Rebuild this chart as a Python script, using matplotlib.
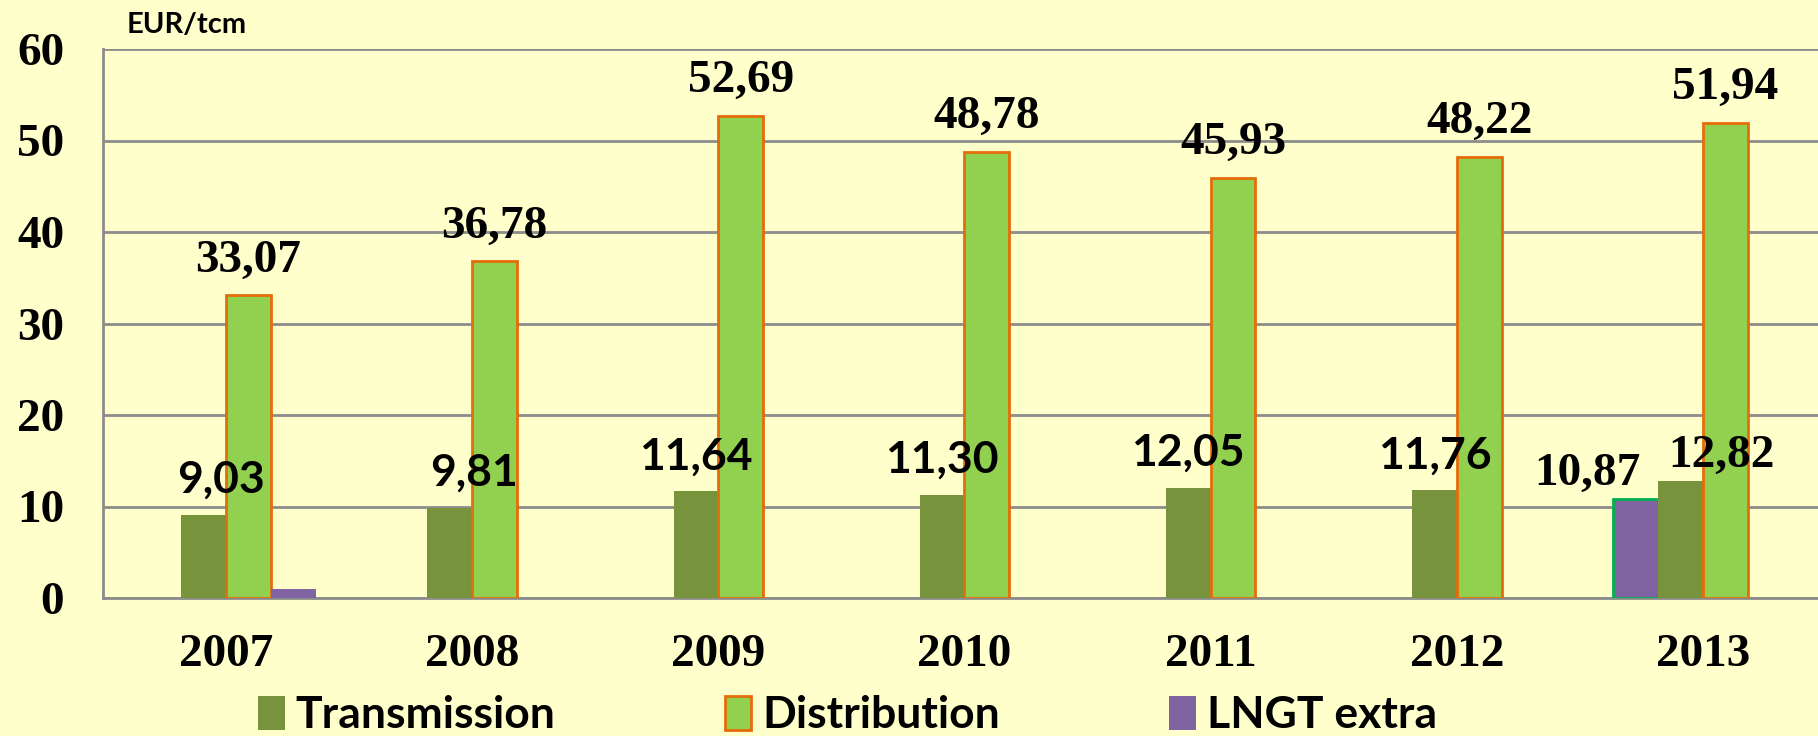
import numpy as np
import matplotlib
matplotlib.use("Agg")
import matplotlib.pyplot as plt
from matplotlib.patches import Patch

years = ["2007", "2008", "2009", "2010", "2011", "2012", "2013"]
transmission = [9.03, 9.81, 11.64, 11.30, 12.05, 11.76, 12.82]
distribution = [33.07, 36.78, 52.69, 48.78, 45.93, 48.22, 51.94]
lngt_extra = [1.0, np.nan, np.nan, np.nan, np.nan, np.nan, np.nan]
lngt_2013 = [np.nan, np.nan, np.nan, np.nan, np.nan, np.nan, 10.87]

BG = "#FFFFCC"
C_TRANS = "#77933C"
C_DIST = "#92D050"
C_DIST_EDGE = "#E46C0A"
C_LNGT = "#8064A2"
C_LNGT_EDGE = "#00B050"
GRID = "#8C8C8C"

SERIF = "Liberation Serif"
SANS = "Lato"


def fmt(v):
    return f"{v:.2f}".replace(".", ",")


fig = plt.figure(figsize=(18.18, 7.36), dpi=100, facecolor=BG)
ax = fig.add_axes([103 / 1818, 138 / 736, 1723 / 1818, 549 / 736])
ax.set_facecolor(BG)

x = np.arange(len(years))
w = 0.182

ax.bar(x - 1.5 * w, lngt_2013, w, color=C_LNGT, edgecolor=C_LNGT_EDGE, linewidth=2, zorder=3)
ax.bar(x - 0.5 * w, transmission, w, color=C_TRANS, zorder=3)
ax.bar(x + 0.5 * w, distribution, w, color=C_DIST, edgecolor=C_DIST_EDGE, linewidth=2, zorder=3)
ax.bar(x + 1.5 * w, lngt_extra, w, color=C_LNGT, zorder=3)

# value labels
for i, v in enumerate(distribution):
    ax.annotate(fmt(v), (x[i] + 0.5 * w, v), xytext=(0, 17), textcoords="offset points",
                ha="center", va="baseline", fontsize=34, fontweight="bold", family=SERIF)

trans_dx = [0.07, 0.10, 0, 0, 0, 0, 0.167]
for i, v in enumerate(transmission):
    if i == len(years) - 1:
        ax.annotate(fmt(v), (x[i] - 0.5 * w + trans_dx[i], v), xytext=(0, 10), textcoords="offset points",
                    ha="center", va="baseline", fontsize=34, fontweight="bold", family=SERIF)
    else:
        ax.annotate(fmt(v), (x[i] - 0.5 * w + trans_dx[i], v), xytext=(0, 16), textcoords="offset points",
                    ha="center", va="baseline", fontsize=32, fontweight="bold", family=SANS)

ax.annotate(fmt(lngt_2013[-1]), (x[-1] - 1.5 * w - 0.195, lngt_2013[-1]), xytext=(0, 10),
            textcoords="offset points", ha="center", va="baseline", fontsize=34,
            fontweight="bold", family=SERIF)

ax.set_xlim(-0.5, len(years) - 0.5)
ax.set_ylim(0, 60)
ax.set_yticks(range(0, 61, 10))
ax.set_xticks(x)
ax.set_xticklabels(years)
ax.yaxis.grid(True, color=GRID, linewidth=2, zorder=0)
ax.set_axisbelow(True)
ax.tick_params(axis="both", length=0)
ax.tick_params(axis="y", pad=28)
ax.tick_params(axis="x", pad=26)
for lab in ax.get_yticklabels() + ax.get_xticklabels():
    lab.set_fontsize(34)
    lab.set_fontweight("bold")
    lab.set_family(SERIF)

for s in ["top", "right"]:
    ax.spines[s].set_visible(False)
for s in ["left", "bottom"]:
    ax.spines[s].set_color(GRID)
    ax.spines[s].set_linewidth(2)

fig.text(127 / 1818, 1 - 12 / 736, "EUR/tcm", ha="left", va="top", fontsize=21,
         fontweight="bold", family=SANS)

handles = [Patch(facecolor=C_TRANS),
           Patch(facecolor=C_DIST, edgecolor=C_DIST_EDGE, linewidth=2),
           Patch(facecolor=C_LNGT)]
fig.legend(handles, ["Transmission", "Distribution", "LNGT extra"], loc="lower left",
           bbox_to_anchor=(258 / 1818, 1 / 736), ncol=3, frameon=False,
           prop={"family": SANS, "weight": "bold", "size": 32},
           handlelength=0.6, handleheight=0.8, handletextpad=0.25,
           columnspacing=3.8, borderpad=0, borderaxespad=0)

fig.savefig("out.png", dpi=100, facecolor=BG)
